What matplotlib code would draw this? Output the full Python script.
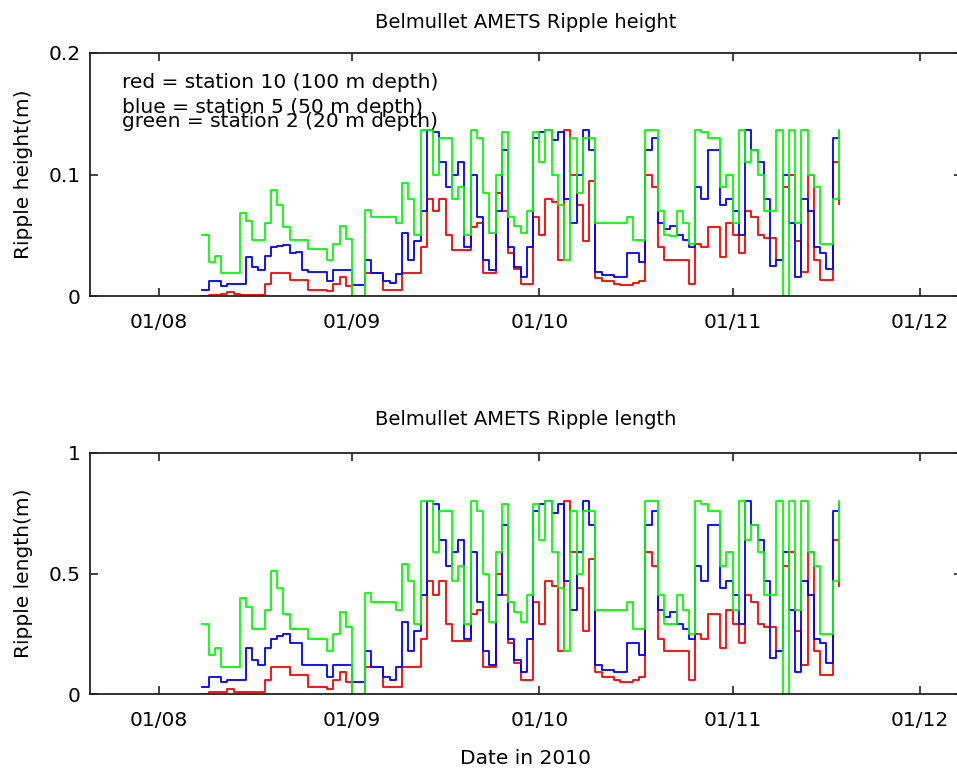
import numpy as np
import matplotlib
matplotlib.use("Agg")
import matplotlib.pyplot as plt
import matplotlib.dates as mdates

# day index counted from 1 August 2010, one reading per day
days = np.arange(7, 110)

# ripple height (m)
h_red = [0.0, 0.001, 0.001, 0.002, 0.003, 0.002, 0.001, 0.001, 0.001, 0.001,
         0.01, 0.019, 0.019, 0.019, 0.013, 0.013, 0.013, 0.005, 0.005, 0.005,
         0.004, 0.01, 0.016, 0.008, 0.0, 0.0, 0.019, 0.019, 0.019, 0.005, 0.005,
         0.005, 0.019, 0.019, 0.019, 0.04, 0.08, 0.07, 0.08, 0.05, 0.038,
         0.038, 0.038, 0.057, 0.06, 0.019, 0.019, 0.085, 0.07, 0.035, 0.022, 0.01,
         0.01, 0.065, 0.05, 0.08, 0.077, 0.03, 0.137, 0.1, 0.075, 0.045,
         0.095, 0.015, 0.012, 0.012, 0.01, 0.009, 0.009, 0.011, 0.012, 0.1, 0.09,
         0.04, 0.03, 0.03, 0.03, 0.03, 0.01, 0.043, 0.04, 0.057, 0.057,
         0.032, 0.06, 0.05, 0.035, 0.07, 0.065, 0.05, 0.048, 0.048, 0.03, 0.09,
         0.1, 0.045, 0.02, 0.1, 0.03, 0.013, 0.013, 0.11, 0.076]
h_blue = [0.005, 0.012, 0.012, 0.008, 0.01, 0.01, 0.01, 0.032, 0.024, 0.021,
          0.033, 0.04, 0.041, 0.042, 0.035, 0.036, 0.021, 0.02, 0.02, 0.02,
          0.012, 0.021, 0.021, 0.021, 0.009, 0.009, 0.03, 0.019, 0.019, 0.012, 0.011,
          0.018, 0.052, 0.03, 0.045, 0.07, 0.137, 0.135, 0.11, 0.09, 0.1,
          0.11, 0.04, 0.1, 0.065, 0.03, 0.021, 0.07, 0.12, 0.04, 0.024, 0.016,
          0.04, 0.13, 0.135, 0.137, 0.128, 0.135, 0.08, 0.06, 0.1, 0.137,
          0.12, 0.02, 0.017, 0.017, 0.016, 0.016, 0.035, 0.035, 0.028, 0.12, 0.13,
          0.06, 0.055, 0.058, 0.05, 0.046, 0.04, 0.09, 0.08, 0.12, 0.12,
          0.075, 0.08, 0.07, 0.05, 0.137, 0.12, 0.11, 0.08, 0.025, 0.03, 0.1,
          0.06, 0.016, 0.08, 0.07, 0.04, 0.035, 0.022, 0.13, 0.135]
h_green = [0.05, 0.028, 0.033, 0.019, 0.019, 0.019, 0.068, 0.062, 0.046, 0.046,
           0.06, 0.087, 0.075, 0.057, 0.046, 0.046, 0.046, 0.039, 0.039, 0.039,
           0.03, 0.043, 0.058, 0.047, 0.0, 0.0, 0.071, 0.065, 0.065, 0.065, 0.065,
           0.06, 0.093, 0.08, 0.05, 0.137, 0.137, 0.1, 0.13, 0.13, 0.08,
           0.09, 0.05, 0.137, 0.13, 0.085, 0.052, 0.1, 0.135, 0.065, 0.058, 0.052,
           0.07, 0.135, 0.11, 0.137, 0.1, 0.075, 0.03, 0.13, 0.085, 0.13,
           0.13, 0.06, 0.06, 0.06, 0.06, 0.06, 0.065, 0.046, 0.046, 0.137, 0.137,
           0.07, 0.05, 0.049, 0.07, 0.06, 0.043, 0.137, 0.135, 0.13, 0.13,
           0.09, 0.1, 0.06, 0.137, 0.11, 0.12, 0.1, 0.07, 0.07, 0.137, 0.0,
           0.137, 0.06, 0.137, 0.1, 0.09, 0.043, 0.043, 0.08, 0.137]

# ripple length (m)
l_red = [0.0, 0.01, 0.01, 0.01, 0.02, 0.01, 0.01, 0.01, 0.01, 0.01,
         0.06, 0.11, 0.11, 0.11, 0.08, 0.08, 0.08, 0.03, 0.03, 0.03,
         0.02, 0.06, 0.09, 0.05, 0.0, 0.0, 0.11, 0.11, 0.11, 0.03, 0.03,
         0.03, 0.11, 0.11, 0.11, 0.23, 0.47, 0.41, 0.47, 0.29, 0.22,
         0.22, 0.22, 0.33, 0.35, 0.11, 0.11, 0.50, 0.41, 0.21, 0.13, 0.06,
         0.06, 0.38, 0.29, 0.47, 0.45, 0.18, 0.80, 0.59, 0.44, 0.26,
         0.56, 0.09, 0.07, 0.07, 0.06, 0.05, 0.05, 0.06, 0.07, 0.59, 0.53,
         0.23, 0.18, 0.18, 0.18, 0.18, 0.06, 0.25, 0.23, 0.33, 0.33,
         0.19, 0.35, 0.29, 0.21, 0.41, 0.38, 0.29, 0.28, 0.28, 0.18, 0.53,
         0.59, 0.26, 0.12, 0.59, 0.18, 0.08, 0.08, 0.64, 0.45]
l_blue = [0.03, 0.07, 0.07, 0.05, 0.06, 0.06, 0.06, 0.19, 0.14, 0.12,
          0.19, 0.23, 0.24, 0.25, 0.21, 0.21, 0.12, 0.12, 0.12, 0.12,
          0.07, 0.12, 0.12, 0.12, 0.05, 0.05, 0.18, 0.11, 0.11, 0.07, 0.06,
          0.11, 0.30, 0.18, 0.26, 0.41, 0.80, 0.79, 0.64, 0.53, 0.59,
          0.64, 0.23, 0.59, 0.38, 0.18, 0.12, 0.41, 0.70, 0.23, 0.14, 0.09,
          0.23, 0.76, 0.79, 0.80, 0.75, 0.79, 0.47, 0.35, 0.59, 0.80,
          0.70, 0.12, 0.10, 0.10, 0.09, 0.09, 0.21, 0.21, 0.16, 0.70, 0.76,
          0.35, 0.32, 0.34, 0.29, 0.27, 0.23, 0.53, 0.47, 0.70, 0.70,
          0.44, 0.47, 0.41, 0.29, 0.80, 0.70, 0.64, 0.47, 0.15, 0.18, 0.59,
          0.35, 0.09, 0.47, 0.41, 0.23, 0.21, 0.13, 0.76, 0.79]
l_green = [0.29, 0.16, 0.19, 0.11, 0.11, 0.11, 0.40, 0.36, 0.27, 0.27,
           0.35, 0.51, 0.44, 0.33, 0.27, 0.27, 0.27, 0.23, 0.23, 0.23,
           0.18, 0.25, 0.34, 0.28, 0.0, 0.0, 0.42, 0.38, 0.38, 0.38, 0.38,
           0.35, 0.54, 0.47, 0.29, 0.80, 0.80, 0.59, 0.76, 0.76, 0.47,
           0.53, 0.29, 0.80, 0.76, 0.50, 0.30, 0.59, 0.79, 0.38, 0.34, 0.30,
           0.41, 0.79, 0.64, 0.80, 0.59, 0.44, 0.18, 0.76, 0.50, 0.76,
           0.76, 0.35, 0.35, 0.35, 0.35, 0.35, 0.38, 0.27, 0.27, 0.80, 0.80,
           0.41, 0.29, 0.29, 0.41, 0.35, 0.25, 0.80, 0.79, 0.76, 0.76,
           0.53, 0.59, 0.35, 0.80, 0.64, 0.70, 0.59, 0.41, 0.41, 0.80, 0.0,
           0.80, 0.35, 0.80, 0.59, 0.53, 0.25, 0.25, 0.47, 0.80]

legend_lines = ["red = station 10 (100 m depth)",
                "blue = station 5 (50 m depth)",
                "green = station 2 (20 m depth)"]

dates = np.datetime64("2010-08-01") + days.astype("timedelta64[D]")
month_ticks = [np.datetime64(m) for m in ["2010-08-01", "2010-09-01", "2010-10-01",
                                           "2010-11-01", "2010-12-01"]]
xlim = (np.datetime64("2010-07-21T00:00"), np.datetime64("2010-12-07T18:00"))

plt.rcParams["font.family"] = "DejaVu Sans"
fig = plt.figure(figsize=(9.57, 7.72), dpi=100)

W, H = 957.0, 772.0
ax1 = fig.add_axes([90 / W, 1 - 296 / H, 872 / W, 243 / H])
ax2 = fig.add_axes([90 / W, 1 - 694 / H, 872 / W, 241 / H])


def style(ax, title, ylabel, ymax, yticks, yticklabels, tpad):
    ax.set_xlim(xlim)
    ax.set_ylim(0, ymax)
    ax.set_xticks(month_ticks)
    ax.xaxis.set_major_formatter(mdates.DateFormatter("%d/%m"))
    ax.set_yticks(yticks)
    ax.set_yticklabels(yticklabels)
    ax.tick_params(direction="in", length=6, width=1.2, labelsize=14.5,
                   top=True, right=True, color="#222222")
    ax.tick_params(axis="x", pad=12)
    ax.tick_params(axis="y", pad=7)
    for s in ax.spines.values():
        s.set_linewidth(1.3)
        s.set_color("#222222")
    ax.set_title(title, fontsize=14, pad=tpad)
    ax.set_ylabel(ylabel, fontsize=14.5, labelpad=11)


ax1.plot(dates, h_red, color="r", lw=1.3, drawstyle="steps-post")
ax1.plot(dates, h_blue, color="b", lw=1.3, drawstyle="steps-post")
ax1.plot(dates, h_green, color="#00ff00", lw=1.3, drawstyle="steps-post")
style(ax1, "Belmullet AMETS Ripple height", "Ripple height(m)", 0.2,
      [0, 0.1, 0.2], ["0", "0.1", "0.2"], 18)

# the three note lines overlap in the original too
ax1.text(0.037, 0.856, legend_lines[0], transform=ax1.transAxes, fontsize=14.5)
ax1.text(0.037, 0.753, legend_lines[1], transform=ax1.transAxes, fontsize=14.5)
ax1.text(0.037, 0.695, legend_lines[2], transform=ax1.transAxes, fontsize=14.5)

ax2.plot(dates, l_red, color="r", lw=1.3, drawstyle="steps-post")
ax2.plot(dates, l_blue, color="b", lw=1.3, drawstyle="steps-post")
ax2.plot(dates, l_green, color="#00ff00", lw=1.3, drawstyle="steps-post")
style(ax2, "Belmullet AMETS Ripple length", "Ripple length(m)", 1.0,
      [0, 0.5, 1], ["0", "0.5", "1"], 20)
ax2.set_xlabel("Date in 2010", fontsize=14.5, labelpad=14)

fig.savefig("out.png", dpi=100)
